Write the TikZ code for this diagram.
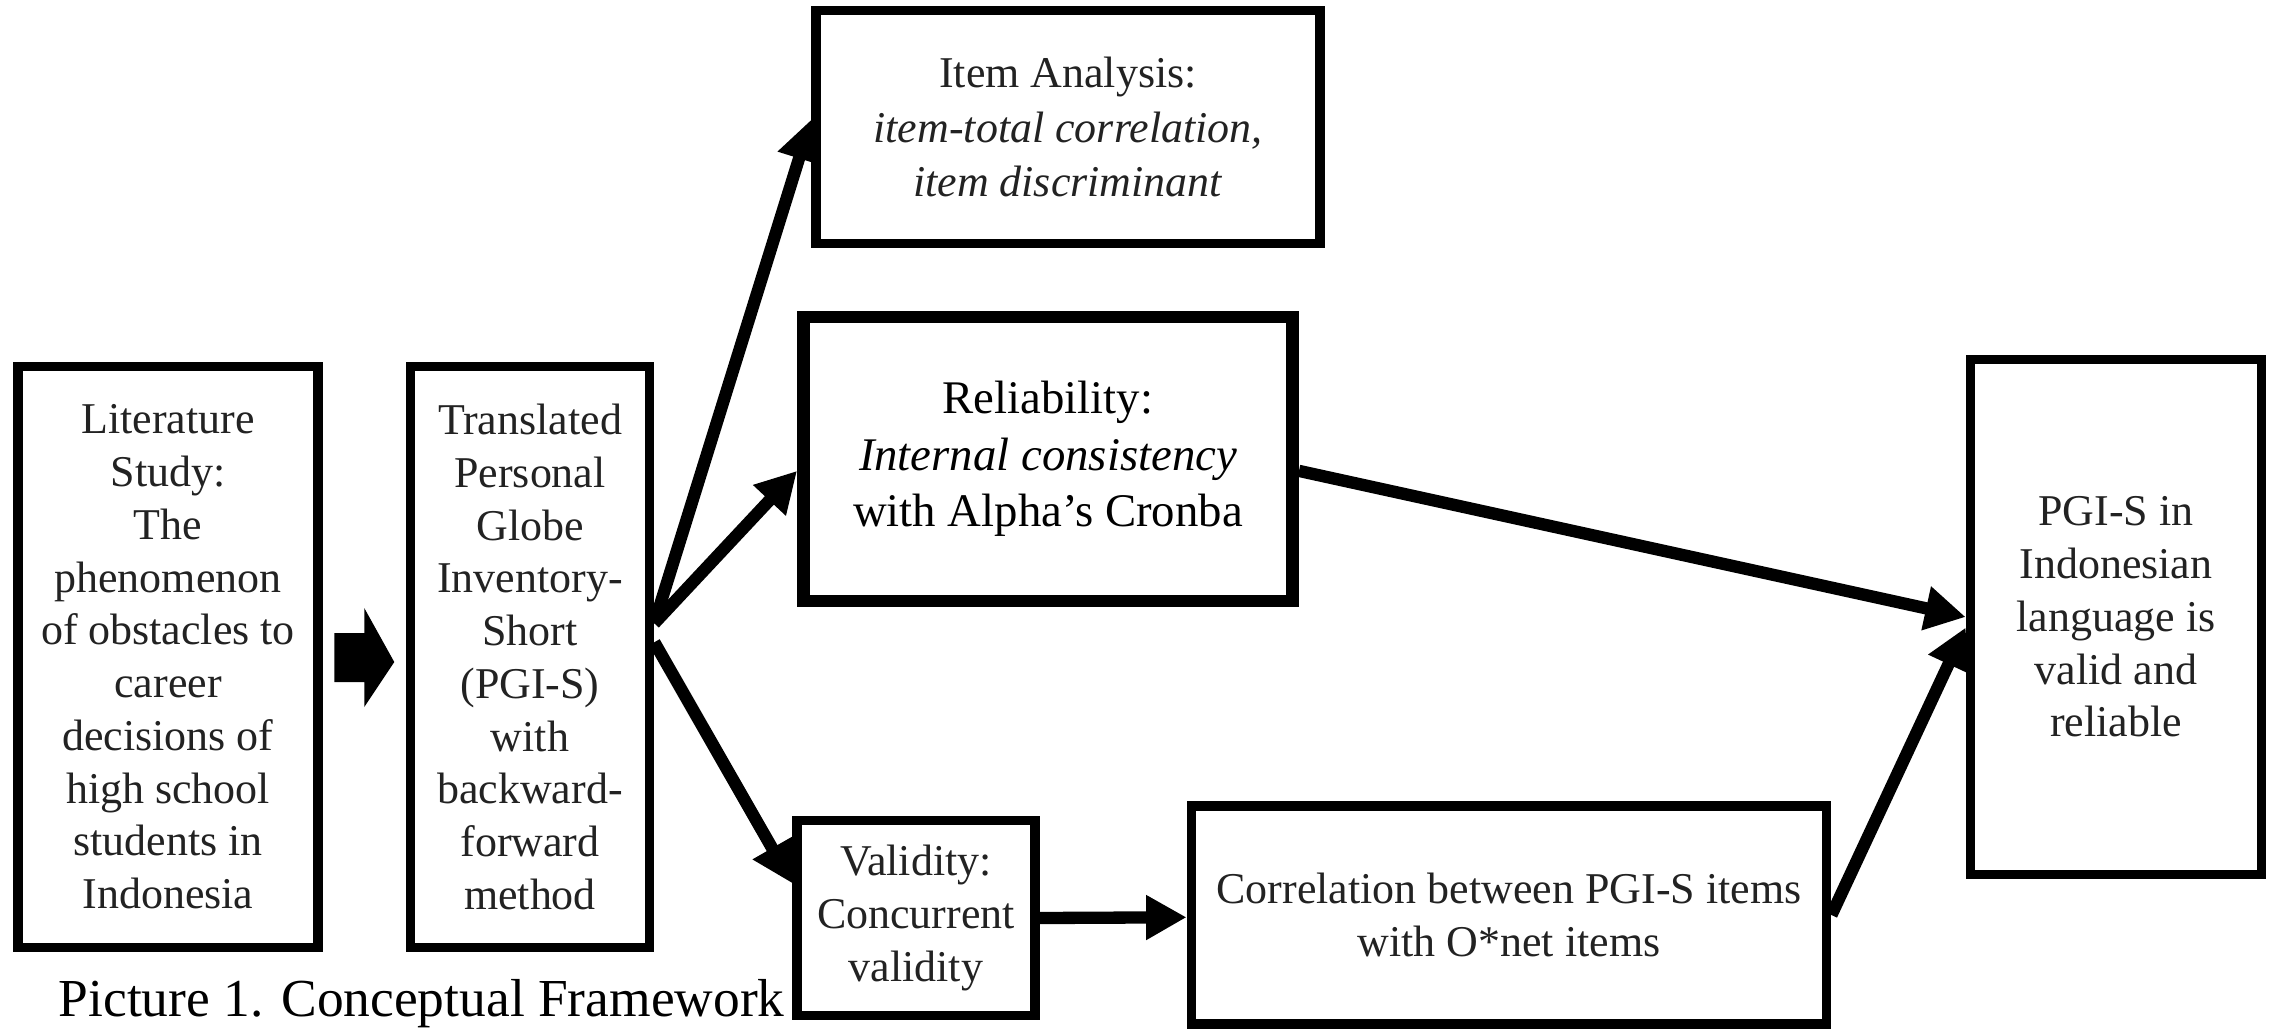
\documentclass[tikz,border=0pt]{standalone}
\usepackage{fontspec}
\setmainfont{Liberation Serif}
\usetikzlibrary{arrows.meta,calc}
\definecolor{txt}{RGB}{34,34,34}
\begin{document}
\begin{tikzpicture}[x=0.01cm,y=-0.01cm,
  box/.style={draw=black, line width=2.7pt, inner sep=0pt, align=center, text=txt,
    font=\fontsize{12.5}{15}\selectfont},
  conn/.style={line width=3.5pt, -{Triangle[length=11.5pt,width=12pt]}},
]
\useasboundingbox (0,0) rectangle (2277,1032);
\fill[white] (0,0) rectangle (2277,1032);

\node[box, minimum width=3.0cm, minimum height=5.81cm] (lit) at (168,657)
  {Literature\\Study:\\The\\phenomenon\\of obstacles to\\career\\decisions of\\high school\\students in\\Indonesia};
\node[box, minimum width=2.39cm, minimum height=5.81cm] (trans) at (530,657)
  {Translated\\Personal\\Globe\\Inventory-\\Short\\(PGI-S)\\with\\backward-\\forward\\method};
\node[box, minimum width=5.04cm, minimum height=2.33cm, font=\fontsize{12.5}{15.4}\selectfont] (ia) at (1068,127)
  {Item Analysis:\\\textit{item-total correlation,}\\\textit{item discriminant}};
\node[box, line width=3.6pt, text=black, minimum width=4.89cm, minimum height=2.84cm,
  font=\fontsize{13.3}{16}\selectfont] (rel) at (1048,459)
  {Reliability:\\\textit{Internal consistency}\\with Alpha’s Cronba};
\node[box, minimum width=2.38cm, minimum height=1.95cm] (val) at (916,918)
  {Validity:\\Concurrent\\validity};
\node[box, minimum width=6.35cm, minimum height=2.18cm] (cor) at (1509,915)
  {Correlation between PGI-S items\\with O*net items};
\node[box, minimum width=2.91cm, minimum height=5.15cm] (fin) at (2116,617)
  {PGI-S in\\Indonesian\\language is\\valid and\\reliable};

\node[anchor=base west, inner sep=0pt, font=\fontsize{15.2}{18}\selectfont] (cap) at (58,1016)
  {Picture 1. Conceptual Framework};

% block arrow between the first two boxes
\coordinate (bk) at ($(lit.east)!0.5!(trans.west)$);
\fill ($(bk)+(-30,-24)$) -- ($(bk)+(0,-24)$) -- ($(bk)+(0,-49)$) -- ($(bk)+(30,5)$)
  -- ($(bk)+(0,50)$) -- ($(bk)+(0,25)$) -- ($(bk)+(-30,25)$) -- cycle;

\draw[conn] ($(trans.north east)!0.443!(trans.south east)$) -- ($(ia.north west)!0.47!(ia.south west)$);
\draw[conn] ($(trans.north east)!0.443!(trans.south east)$) -- ($(rel.north west)!0.54!(rel.south west)$);
\draw[conn] ($(trans.north east)!0.475!(trans.south east)$) -- ($(val.north west)!0.33!(val.south west)$);
\draw[conn] ($(val.north east)!0.5!(val.south east)$) -- ($(cor.north west)!0.51!(cor.south west)$);
\draw[conn] ($(rel.north east)!0.54!(rel.south east)$) -- ($(fin.north west)!0.5!(fin.south west)$);
\draw[conn] ($(cor.north east)!0.5!(cor.south east)$) -- ($(fin.north west)!0.52!(fin.south west)$);
\end{tikzpicture}
\end{document}
